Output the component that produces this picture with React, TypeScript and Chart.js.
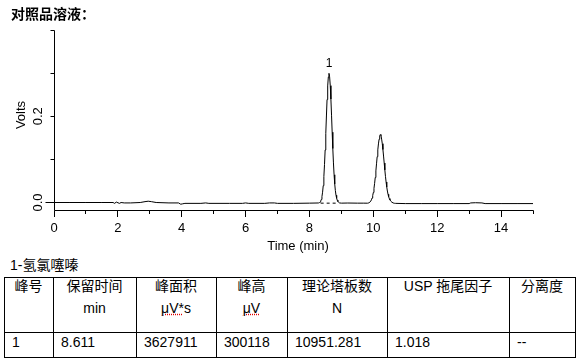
import React, { useEffect, useRef } from 'react';
import { Chart, registerables } from 'chart.js';

Chart.register(...registerables);

// ---------- text ----------
const PAGE_TITLE = '对照品溶液：';
const COMPOUND_NAME = '1-氢氯噻嗪';
const X_TITLE = 'Time (min)';
const Y_TITLE = 'Volts';

// ---------- axes ----------
const X_MIN = 0;
const X_MAX = 15;
const X_TICKS = [0, 1, 2, 3, 4, 5, 6, 7, 8, 9, 10, 11, 12, 13, 14, 15];
const X_LABELED_TICKS = [0, 2, 4, 6, 8, 10, 12, 14];
const Y_MIN = -0.0197;
const Y_MAX = 0.4;
const Y_TICKS = [0, 0.1, 0.2, 0.3, 0.4];
const Y_LABELED_TICKS = [0, 0.2];

// ---------- chromatogram trace (time min, volts) ----------
const baselineStart: [number, number][] = [
  [0, 0], [0.5, 0], [1.0, 0], [1.5, 0], [1.85, 0], [1.9, -0.002], [1.95, 0.001],
  [2.05, -0.002], [2.1, 0], [2.2, -0.001], [2.4, -0.001], [2.7, 0], [2.85, 0.002],
  [2.95, 0.003], [3.05, 0.002], [3.2, 0], [3.6, -0.001], [3.9, -0.001], [3.97, -0.004],
  [4.03, -0.003], [4.1, -0.002], [4.6, -0.002], [4.75, -0.001], [4.85, -0.002],
  [5.5, -0.002], [5.9, -0.002], [6.0, -0.001], [6.1, -0.002], [6.6, -0.002],
  [6.75, -0.001], [6.9, -0.001], [7.0, -0.002], [7.5, -0.002], [8.0, -0.0015],
];
const peak1Trace: [number, number][] = [
  [8.281, -0.0011], [8.311, -0.0003], [8.331, 0.0009], [8.351, 0.0031], [8.371, 0.0071],
  [8.391, 0.0136], [8.411, 0.0239], [8.431, 0.0391], [8.451, 0.0603], [8.471, 0.088],
  [8.491, 0.1218], [8.511, 0.1603], [8.531, 0.2006], [8.551, 0.2387], [8.571, 0.2703],
  [8.591, 0.2912], [8.611, 0.2995], [8.631, 0.2915], [8.651, 0.271], [8.671, 0.2398],
  [8.691, 0.2025], [8.711, 0.163], [8.731, 0.1252], [8.751, 0.0918], [8.771, 0.0643],
  [8.791, 0.043], [8.811, 0.0275], [8.831, 0.0168], [8.851, 0.0097], [8.871, 0.0052],
  [8.891, 0.0023], [8.911, 0.0005], [8.941, -0.001],
];
const baselineMid: [number, number][] = [
  [9.0, -0.0015], [9.2, -0.0012], [9.5, -0.0015], [9.7, -0.0015],
];
const peak2Trace: [number, number][] = [
  [9.82, -0.0016], [9.86, -0.0008], [9.89, 0.0006], [9.92, 0.0033], [9.94, 0.0062],
  [9.96, 0.0103], [9.98, 0.0159], [10.0, 0.0233], [10.02, 0.0328], [10.04, 0.0444],
  [10.06, 0.058], [10.08, 0.0733], [10.1, 0.0897], [10.12, 0.1063], [10.14, 0.122],
  [10.16, 0.1359], [10.18, 0.1467], [10.2, 0.1551], [10.22, 0.1575], [10.24, 0.1552],
  [10.26, 0.147], [10.28, 0.1364], [10.3, 0.1229], [10.32, 0.1077], [10.34, 0.0915],
  [10.36, 0.0756], [10.38, 0.0607], [10.4, 0.0475], [10.42, 0.0361], [10.44, 0.0266],
  [10.46, 0.0191], [10.48, 0.0134], [10.5, 0.0091], [10.52, 0.006], [10.55, 0.0028],
  [10.58, 0.0008], [10.62, -0.001], [10.66, -0.0018],
];
const baselineEnd: [number, number][] = [
  [10.7, -0.002], [11.0, -0.0025], [11.5, -0.0025], [12.0, -0.0025], [12.5, -0.0025],
  [13.0, -0.0025], [13.05, -0.001], [13.2, -0.0005], [13.4, -0.001], [13.5, -0.0025],
  [14.0, -0.0025], [14.5, -0.0025], [15.0, -0.0025],
];
// dashed integration baseline under peak 1
const integrationBaseline: [number, number][] = [[8.35, -0.0015], [8.87, -0.0015]];
// peak annotations
const peakLabelTimes = [8.611];
const peakLabelHeights = [0.3];
const peakLabelTexts = ['1'];

// ---------- results table ----------
const tableHeaderLine1 = ['峰号', '保留时间', '峰面积', '峰高', '理论塔板数', 'USP 拖尾因子', '分离度'];
const tableHeaderLine2 = ['', 'min', 'μV*s', 'μV', 'N', '', ''];
const tableRow1 = ['1', '8.611', '3627911', '300118', '10951.281', '1.018', '--'];

const COL_EDGES = [4, 53, 136, 216, 287, 387, 509, 575];
const ROW_EDGES = [277, 332, 357];

const LATIN = '"Liberation Sans", Arial, "Noto Sans CJK SC", sans-serif';
const CJK = '"Liberation Sans", "Noto Sans CJK SC", sans-serif';

const toPoints = (arr: [number, number][]) => arr.map(([x, y]) => ({ x, y }));

const axesPlugin = {
  id: 'chromAxes',
  afterDraw(chart: any) {
    const { ctx, chartArea: a } = chart;
    const xs = chart.scales.x;
    const ys = chart.scales.y;
    const px = (v: number) => Math.floor(xs.getPixelForValue(v)) + 0.5;
    const py = (v: number) => Math.floor(ys.getPixelForValue(v)) + 0.5;
    ctx.save();
    ctx.strokeStyle = '#000';
    ctx.fillStyle = '#000';
    ctx.lineWidth = 1;
    const axisX = px(X_MIN);
    const axisY = Math.round(a.bottom) - 0.5;
    ctx.beginPath();
    // y axis
    ctx.moveTo(axisX, py(Y_TICKS[Y_TICKS.length - 1]));
    ctx.lineTo(axisX, axisY);
    for (const v of Y_TICKS) {
      const len = v === 0 ? 9 : 4;
      ctx.moveTo(axisX - len, py(v));
      ctx.lineTo(axisX, py(v));
    }
    // x axis
    ctx.moveTo(axisX, axisY);
    ctx.lineTo(px(X_MAX), axisY);
    for (const t of X_TICKS) {
      const major = X_LABELED_TICKS.includes(t);
      ctx.moveTo(px(t), axisY);
      ctx.lineTo(px(t), axisY + (major ? 6.5 : 3.5));
    }
    ctx.stroke();

    // x labels
    ctx.font = '13px ' + LATIN;
    ctx.textAlign = 'center';
    ctx.textBaseline = 'alphabetic';
    for (const t of X_LABELED_TICKS) {
      ctx.fillText(String(t), xs.getPixelForValue(t), a.bottom + 21);
    }
    ctx.fillText(X_TITLE, (a.left + a.right) / 2 + 4.5, a.bottom + 38.5);

    // y labels (rotated)
    for (const v of Y_LABELED_TICKS) {
      ctx.save();
      ctx.translate(42, ys.getPixelForValue(v));
      ctx.rotate(-Math.PI / 2);
      ctx.fillText(v.toFixed(1), 0, 0);
      ctx.restore();
    }
    ctx.save();
    ctx.translate(24.5, (a.top + a.bottom) / 2 - 5.5);
    ctx.rotate(-Math.PI / 2);
    ctx.fillText(Y_TITLE, 0, 0);
    ctx.restore();

    // peak labels
    ctx.font = '12px ' + LATIN;
    peakLabelTimes.forEach((t, i) => {
      ctx.fillText(peakLabelTexts[i], xs.getPixelForValue(t), ys.getPixelForValue(peakLabelHeights[i]) - 6.5);
    });
    ctx.restore();
  },
};

function ChromChart() {
  const ref = useRef<HTMLCanvasElement | null>(null);
  useEffect(() => {
    if (!ref.current) return;
    const trace = [...baselineStart, ...peak1Trace, ...baselineMid, ...peak2Trace, ...baselineEnd];
    const chart = new Chart(ref.current, {
      type: 'line',
      data: {
        datasets: [
          {
            data: toPoints(trace),
            borderColor: '#000',
            borderWidth: 1,
            pointRadius: 0,
            tension: 0,
            fill: false,
          },
          {
            data: toPoints(integrationBaseline),
            borderColor: '#000',
            borderWidth: 1,
            borderDash: [3, 3],
            pointRadius: 0,
            tension: 0,
            fill: false,
          },
        ],
      },
      options: {
        responsive: false,
        maintainAspectRatio: false,
        animation: false,
        devicePixelRatio: 1,
        parsing: false as any,
        layout: { padding: { left: 54, right: 53, top: 30, bottom: 44 } },
        scales: {
          x: { type: 'linear', min: X_MIN, max: X_MAX, display: false },
          y: { type: 'linear', min: Y_MIN, max: Y_MAX, display: false },
        },
        plugins: { legend: { display: false }, tooltip: { enabled: false } },
      },
      plugins: [axesPlugin],
    });
    return () => chart.destroy();
  }, []);
  return (
    <canvas
      ref={ref}
      width={586}
      height={255}
      style={{ position: 'absolute', left: 0, top: 0, width: 586, height: 255 }}
    />
  );
}

function ResultsTable() {
  const cells: React.ReactNode[] = [];
  for (let c = 0; c < COL_EDGES.length - 1; c++) {
    for (let r = 0; r < ROW_EDGES.length - 1; r++) {
      cells.push(
        <div
          key={`cell-${c}-${r}`}
          style={{
            position: 'absolute',
            left: COL_EDGES[c],
            top: ROW_EDGES[r],
            width: COL_EDGES[c + 1] - COL_EDGES[c] + 1,
            height: ROW_EDGES[r + 1] - ROW_EDGES[r] + 1,
            border: '1px solid #000',
            boxSizing: 'border-box',
          }}
        />
      );
    }
  }
  const textStyle = (c: number, cy: number, center: boolean): React.CSSProperties => ({
    position: 'absolute',
    left: center ? COL_EDGES[c] : COL_EDGES[c] + 8,
    width: center ? COL_EDGES[c + 1] - COL_EDGES[c] : undefined,
    top: cy - 8,
    lineHeight: '16px',
    height: 16,
    fontSize: 14,
    fontFamily: CJK,
    textAlign: center ? 'center' : 'left',
    whiteSpace: 'nowrap',
    color: '#000',
  });
  const squiggle: React.CSSProperties = {
    textDecorationLine: 'underline',
    textDecorationStyle: 'dotted',
    textDecorationColor: '#e00000',
  };
  const renderLine2 = (s: string) => {
    if (s.startsWith('μV')) {
      const rest = s.slice(2);
      if (rest.startsWith('*')) {
        return (<><span style={squiggle}>μV*</span>{rest.slice(1)}</>);
      }
      return (<><span style={squiggle}>μV</span>{rest}</>);
    }
    return s;
  };
  return (
    <>
      {cells}
      {tableHeaderLine1.map((s, c) => (
        <div key={`h1-${c}`} style={textStyle(c, 286, true)}>{s}</div>
      ))}
      {tableHeaderLine2.map((s, c) =>
        s ? <div key={`h2-${c}`} style={textStyle(c, 308, true)}>{renderLine2(s)}</div> : null
      )}
      {tableRow1.map((s, c) => (
        <div key={`r1-${c}`} style={textStyle(c, 342, false)}>{s}</div>
      ))}
    </>
  );
}

export default function App() {
  return (
    <div
      style={{
        position: 'absolute',
        left: 0,
        top: 0,
        width: 586,
        height: 364,
        background: '#fff',
        overflow: 'hidden',
      }}
    >
      <ChromChart />
      <div
        style={{
          position: 'absolute',
          left: 11,
          top: 6,
          fontSize: 14,
          lineHeight: '14px',
          fontWeight: 700,
          fontFamily: '"Noto Sans CJK SC", sans-serif',
          color: '#000',
          whiteSpace: 'nowrap',
        }}
      >
        {PAGE_TITLE}
      </div>
      <div
        style={{
          position: 'absolute',
          left: 10,
          top: 257,
          fontSize: 14,
          lineHeight: '16px',
          fontFamily: CJK,
          color: '#000',
          whiteSpace: 'nowrap',
        }}
      >
        {COMPOUND_NAME}
      </div>
      <ResultsTable />
    </div>
  );
}
